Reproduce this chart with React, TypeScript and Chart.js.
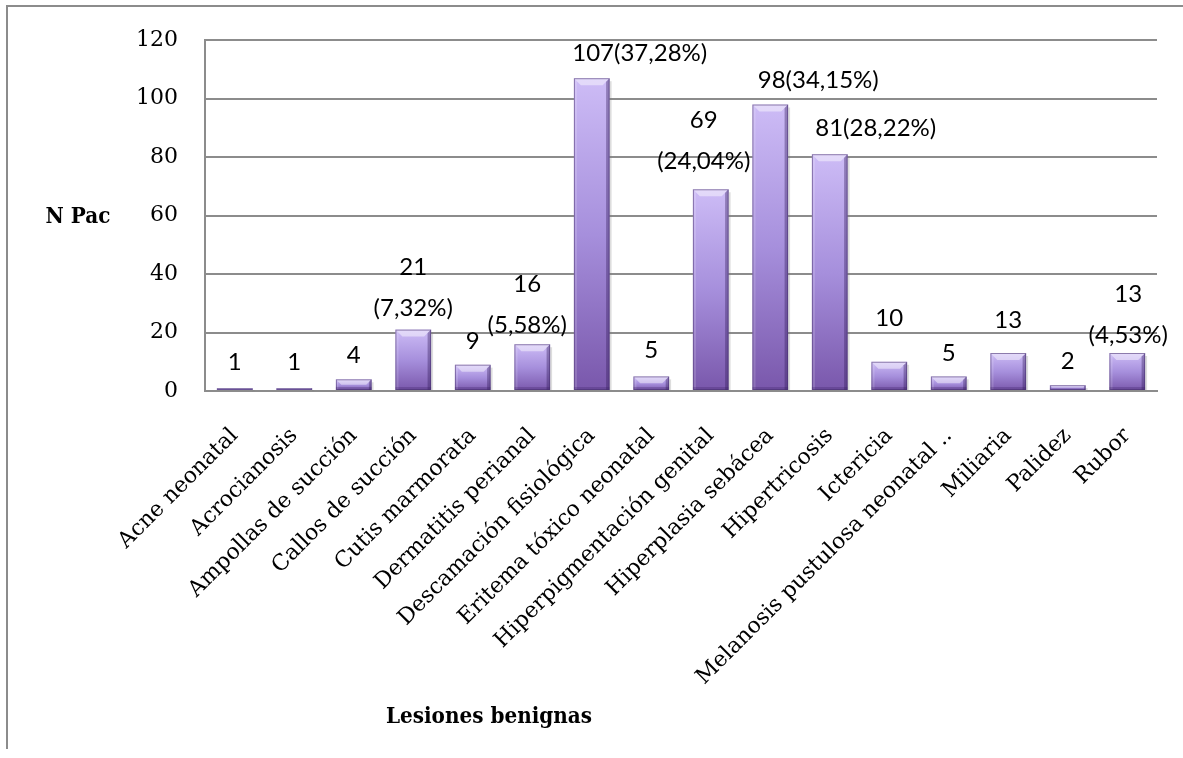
import React, { useEffect, useRef } from "react";
import { Chart, registerables } from "chart.js";

Chart.register(...registerables);

// ---- data ----
const categories = [
  "Acne neonatal",
  "Acrocianosis",
  "Ampollas de succión",
  "Callos de succión",
  "Cutis marmorata",
  "Dermatitis perianal",
  "Descamación fisiológica",
  "Eritema tóxico neonatal",
  "Hiperpigmentación genital",
  "Hiperplasia sebácea",
  "Hipertricosis",
  "Ictericia",
  "Melanosis pustulosa neonatal ..",
  "Miliaria",
  "Palidez",
  "Rubor",
];
const counts = [1, 1, 4, 21, 9, 16, 107, 5, 69, 98, 81, 10, 5, 13, 2, 13];
const percentLabels = [
  "", "", "", "(7,32%)", "", "(5,58%)", "(37,28%)", "", "(24,04%)",
  "(34,15%)", "(28,22%)", "", "", "", "", "(4,53%)",
];
// whether the percentage sits on its own line below the count
const percentOnNewLine = [
  false, false, false, true, false, true, false, false, true,
  false, false, false, false, false, false, true,
];
const yTickValues = [0, 20, 40, 60, 80, 100, 120];
const axisTitleY = "N Pac";
const axisTitleX = "Lesiones benignas";

// label nudges (px): lift of the last label line above bar top, horizontal shift
const labelLift = [26, 26, 24, 21, 23, 19, 25, 26, 28, 24, 26, 44, 23, 33, 24, 18];
const labelShift = [0, 0, 0, 0, 0, -5, 48, 0, -7, 48, 46, 0, 0, 0, 0, 1];

const W = 1183;
const H = 758;
const GRID = "#8c8c8c";

function drawCondensed(ctx: CanvasRenderingContext2D, text: string, x: number, y: number) {
  ctx.save();
  ctx.translate(x, y);
  ctx.scale(0.87, 1);
  ctx.fillText(text, 0, 0);
  ctx.restore();
}

const labelPlugin = {
  id: "valueLabels",
  afterDatasetsDraw(chart: any) {
    const ctx = chart.ctx;
    const meta = chart.getDatasetMeta(0);
    ctx.save();
    // bevel effects
    meta.data.forEach((bar: any) => {
      const left = bar.x - bar.width / 2;
      const right = bar.x + bar.width / 2;
      const top = bar.y;
      const bottom = bar.base;
      const h = bottom - top;
      const b = Math.min(7, h / 2);
      ctx.fillStyle = "rgba(255,255,255,0.45)";
      ctx.beginPath();
      ctx.moveTo(left, top);
      ctx.lineTo(right, top);
      ctx.lineTo(right - b, top + b);
      ctx.lineTo(left + b, top + b);
      ctx.closePath();
      ctx.fill();
      ctx.fillStyle = "rgba(255,255,255,0.15)";
      ctx.beginPath();
      ctx.moveTo(left, top);
      ctx.lineTo(left + b * 0.45, top + b * 0.45);
      ctx.lineTo(left + b * 0.45, bottom);
      ctx.lineTo(left, bottom);
      ctx.closePath();
      ctx.fill();
      ctx.fillStyle = "rgba(50,25,90,0.38)";
      ctx.beginPath();
      ctx.moveTo(right, top);
      ctx.lineTo(right, bottom);
      ctx.lineTo(right - b * 0.5, bottom);
      ctx.lineTo(right - b * 0.5, top + b * 0.5);
      ctx.closePath();
      ctx.fill();
      ctx.fillStyle = "rgba(50,25,90,0.25)";
      ctx.fillRect(left, bottom - Math.min(3, h / 3), right - left, Math.min(3, h / 3));
      ctx.strokeStyle = "rgba(70,45,110,0.55)";
      ctx.lineWidth = 1;
      ctx.strokeRect(left + 0.5, top + 0.5, right - left - 1, h - 1);
      // soft shadow on the right
      ctx.fillStyle = "rgba(120,120,120,0.25)";
      ctx.fillRect(right, top + 3, 2, h - 3);
    });
    // value labels
    ctx.fillStyle = "#000";
    ctx.font = "24px Lato";
    ctx.textAlign = "center";
    ctx.textBaseline = "middle";
    meta.data.forEach((bar: any, i: number) => {
      const lines = percentLabels[i] === ""
        ? [String(counts[i])]
        : percentOnNewLine[i]
          ? [String(counts[i]), percentLabels[i]]
          : [String(counts[i]) + percentLabels[i]];
      const x = bar.x + labelShift[i];
      const yLast = bar.y - labelLift[i];
      const gap = 41;
      lines.forEach((t, k) => {
        ctx.fillText(t, x, yLast - (lines.length - 1 - k) * gap);
      });
    });
    ctx.restore();
  },
  afterDraw(chart: any) {
    const ctx = chart.ctx;
    ctx.save();
    ctx.fillStyle = "#000";
    ctx.font = 'bold 23px "DejaVu Serif"';
    ctx.textAlign = "center";
    ctx.textBaseline = "middle";
    drawCondensed(ctx, axisTitleY, 78, (chart.chartArea.top + chart.chartArea.bottom) / 2 + 1);
    drawCondensed(ctx, axisTitleX, 489, 717);
    ctx.restore();
  },
};

export default function App() {
  const canvasRef = useRef<HTMLCanvasElement | null>(null);

  useEffect(() => {
    document.body.style.margin = "0";
    const canvas = canvasRef.current;
    if (!canvas) return;
    const chart = new Chart(canvas, {
      type: "bar",
      data: {
        labels: categories,
        datasets: [
          {
            data: counts,
            backgroundColor: (c: any) => {
              const ch = c.chart;
              if (!ch.chartArea || c.type !== "data") return "#a38bd6";
              const y = ch.scales.y;
              const top = y.getPixelForValue(counts[c.dataIndex]);
              const bot = y.getPixelForValue(0);
              const g = ch.ctx.createLinearGradient(0, top, 0, bot + 0.01);
              g.addColorStop(0, "#cdbcf6");
              g.addColorStop(0.5, "#a68fdc");
              g.addColorStop(1, "#7957ab");
              return g;
            },
            borderWidth: 0,
            categoryPercentage: 1,
            barPercentage: 0.6,
          },
        ],
      },
      options: {
        animation: false,
        responsive: false,
        maintainAspectRatio: false,
        layout: { padding: { top: 36, right: 26, left: 0, bottom: 0 } },
        plugins: {
          legend: { display: false },
          tooltip: { enabled: false },
        },
        scales: {
          x: {
            grid: { display: false, drawTicks: false },
            border: { display: true, color: GRID, width: 2 },
            ticks: {
              autoSkip: false,
              maxRotation: 45,
              minRotation: 45,
              padding: 32,
              color: "#000",
              font: { family: "DejaVu Serif", size: 22 },
            },
            afterFit: (s: any) => {
              s.height = H - 391;
            },
          },
          y: {
            min: 0,
            max: 120,
            afterBuildTicks: (s: any) => {
              s.ticks = yTickValues.map((v) => ({ value: v }));
            },
            grid: { color: GRID, lineWidth: 2, drawTicks: false },
            border: { display: true, color: GRID, width: 2 },
            ticks: {
              padding: 27,
              color: "#000",
              font: { family: "DejaVu Serif", size: 22 },
            },
            afterFit: (s: any) => {
              s.width = 205;
            },
          },
        },
      },
      plugins: [labelPlugin],
    });
    return () => chart.destroy();
  }, []);

  return (
    <div style={{ position: "relative", width: W, height: H, overflow: "hidden", background: "#fff" }}>
      <div
        style={{
          position: "absolute",
          left: 6,
          top: 5,
          width: W,
          height: 744,
          borderTop: "2px solid #8c8c8c",
          borderLeft: "2px solid #8c8c8c",
          boxSizing: "border-box",
        }}
      />
      <canvas ref={canvasRef} width={W} height={H} style={{ position: "absolute", left: 0, top: 0 }} />
    </div>
  );
}
